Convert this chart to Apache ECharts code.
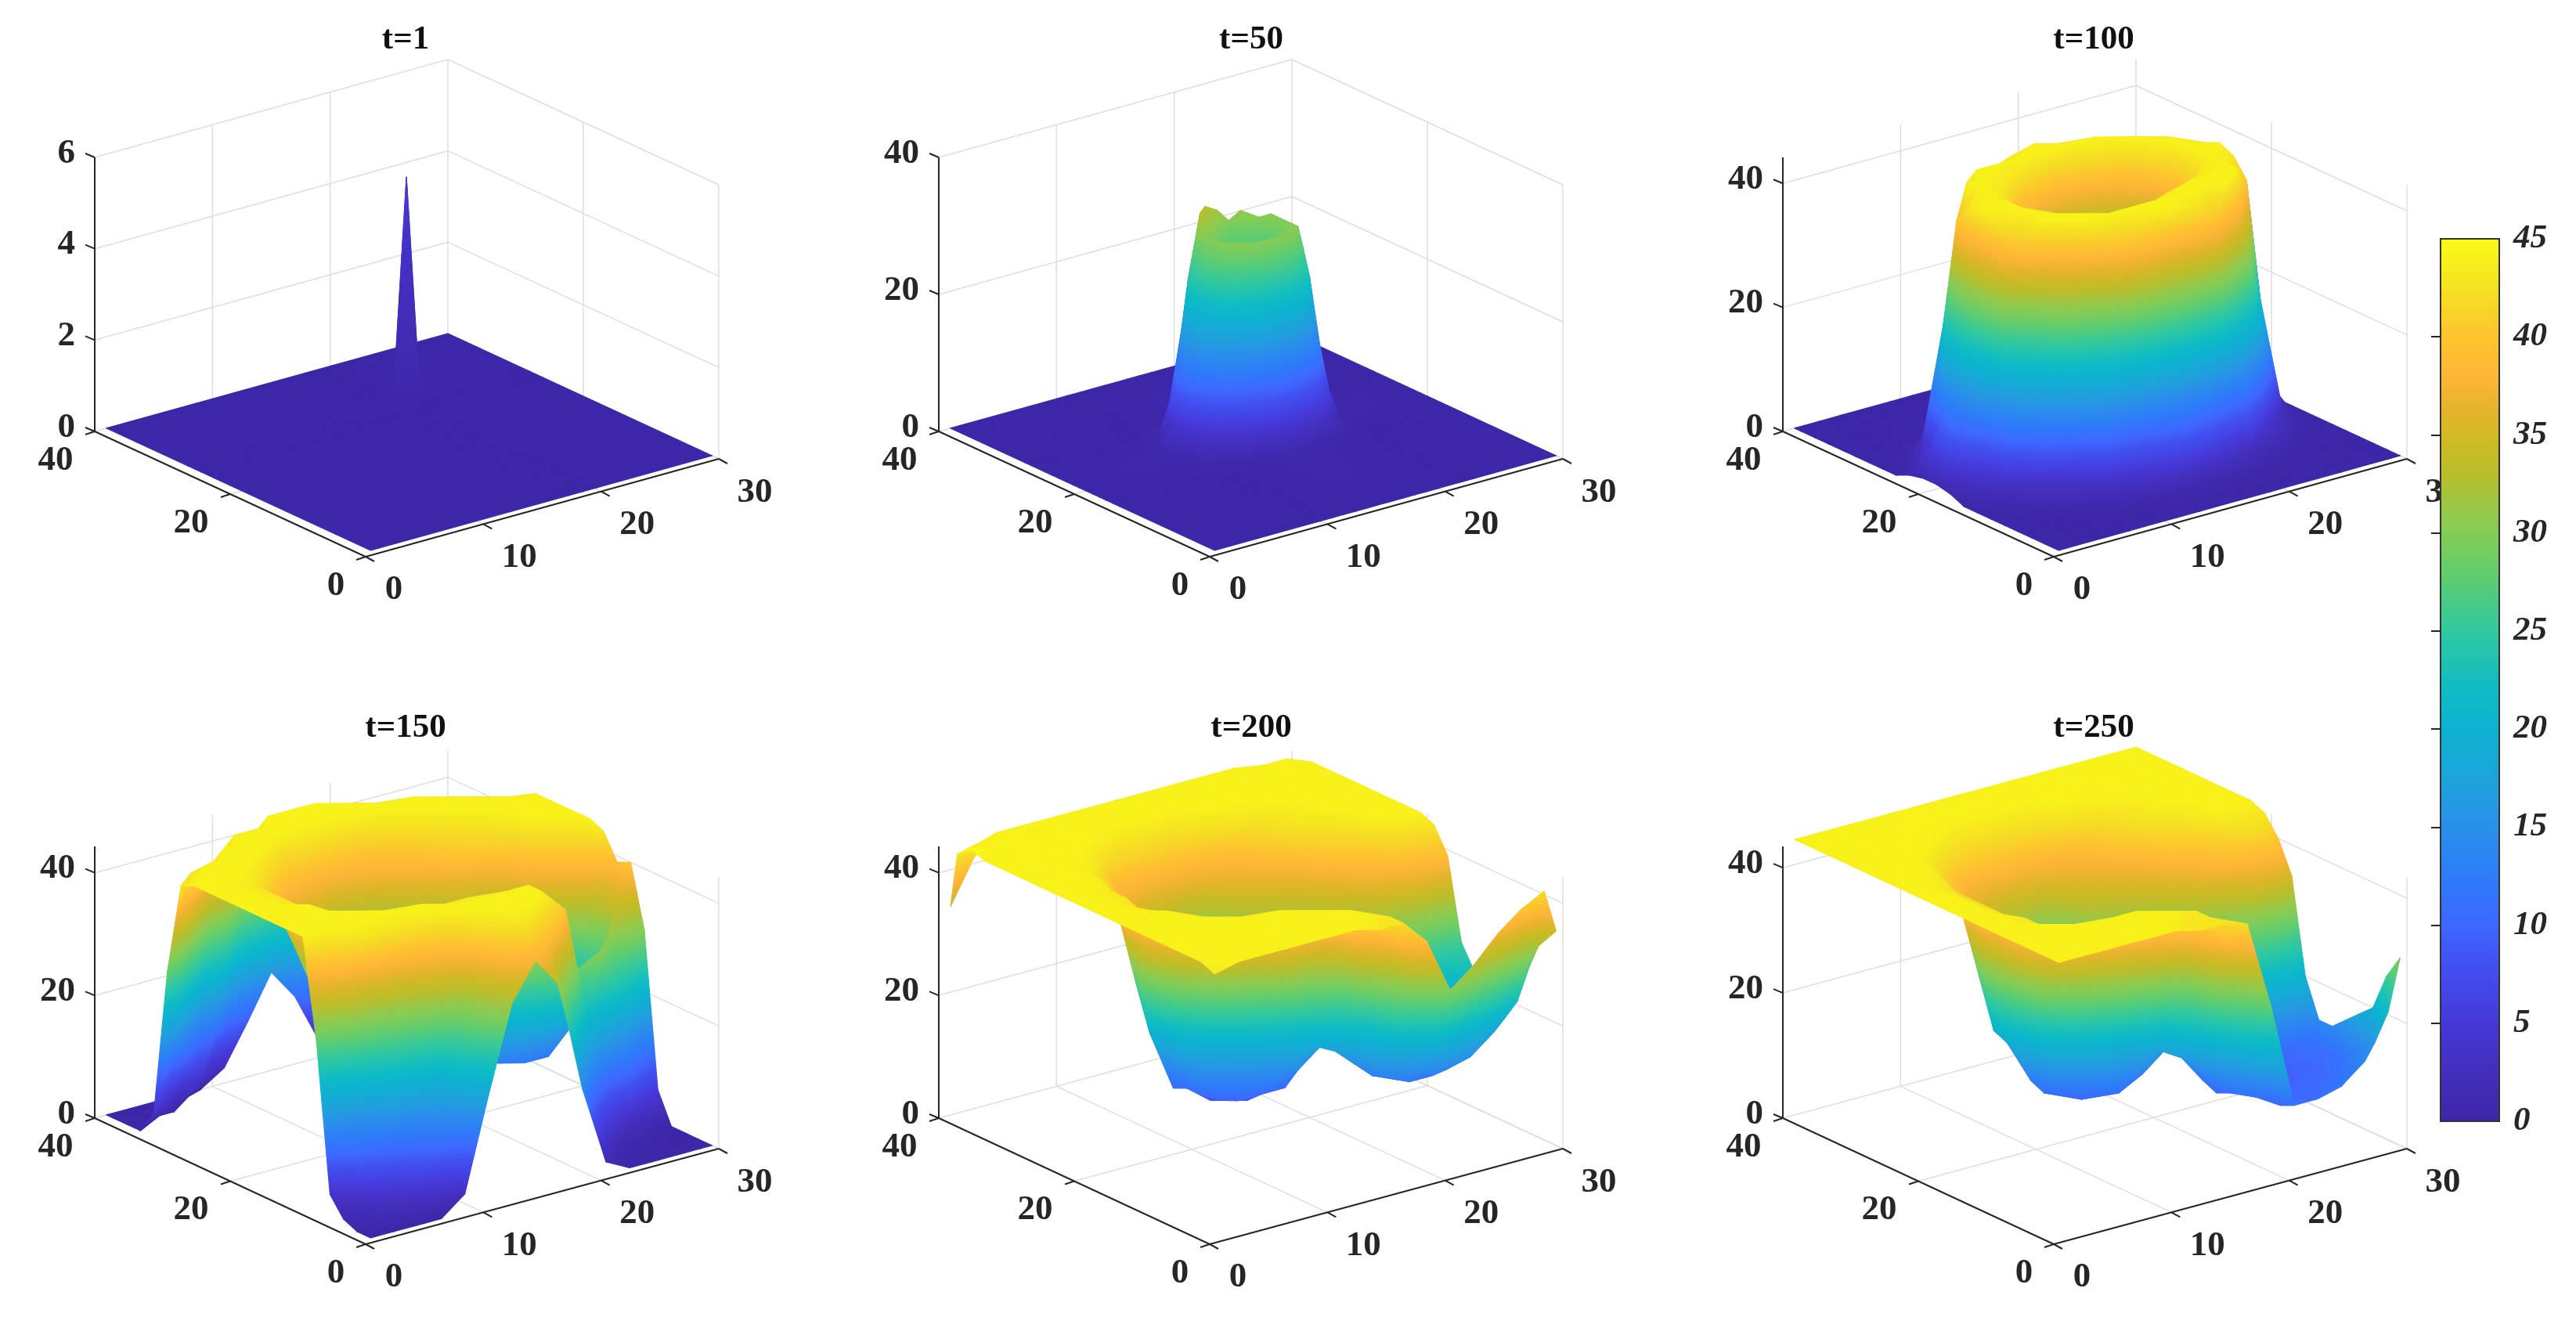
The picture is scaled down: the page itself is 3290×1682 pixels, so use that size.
<!DOCTYPE html>
<html><head><meta charset="utf-8">
<style>html,body{margin:0;padding:0;background:#fff}#c{width:3290px;height:1682px}</style>
<script src="https://cdn.jsdelivr.net/npm/echarts@6/dist/echarts.min.js"></script>
</head><body><div id="c"></div>
<script>
// ---------- values ----------
const panelTitles = ['t=1','t=50','t=100','t=150','t=200','t=250'];
const xTicks = [0,10,20,30];
const yTicks = [0,20,40];
const zTicksT1 = [0,2,4,6];
const zTicksOther = [0,20,40];
const barTicks = [0,5,10,15,20,25,30,35,40,45];

const xsT1 = [1,17.8,19,20.2,30];
const ysT1 = [1,26,27,28,40];
const zT1 = [
[0,0,0,0,0],
[0,0,0,0,0],
[0,0,5.1,0,0],
[0,0,0,0,0],
[0,0,0,0,0]];

const xsT50 = [1,9,10,11,12,13,14,15,16,17,18,19,20,21,22,23,30];
const ysT50 = [1,15,16,17,18,19,20,21,22,23,24,25,26,27,28,29,40];
const zT50 = [
[0,0,0,0,0,0,0,0,0,0,0,0,0,0,0,0,0],
[0,0,0,0,.1,.2,.4,.5,.5,.5,.4,.2,.1,0,0,0,0],
[0,0,0,.2,.5,1,2.2,3.8,4,3.8,2.2,1,.5,.2,0,0,0],
[0,0,.2,.6,2,6,10,14,15,14,10,6,2,.6,.2,0,0],
[0,.1,.5,2,7,15,22,26,27,26,22,15,7,2,.5,.1,0],
[0,.2,1,6,15,25,30,30,30,30,30,25,15,6,1,.2,0],
[0,.4,2.2,10,22,30,30,28,27,28,30,30,22,10,2.2,.4,0],
[0,.5,3.8,14,26,30,28,27,27,27,28,30,26,14,3.8,.5,0],
[0,.5,4,15,27,30,27,27,27,27,27,30,27,15,4,.5,0],
[0,.5,3.8,14,26,30,28,27,27,27,28,30,26,14,3.8,.5,0],
[0,.4,2.2,11,24,33,31,28,27,28,30,30,22,10,2.2,.4,0],
[0,.2,1,6,16,27,33,32,30,31,29,25,15,6,1,.2,0],
[0,.1,.5,2,7,15,23,27,28,27,22,15,7,2,.5,.1,0],
[0,0,.2,.6,2,6,10,14,15,14,10,6,2,.6,.2,0,0],
[0,0,0,.2,.5,1,2.2,3.8,4,3.8,2.2,1,.5,.2,0,0,0],
[0,0,0,0,.1,.2,.4,.5,.5,.5,.4,.2,.1,0,0,0,0],
[0,0,0,0,0,0,0,0,0,0,0,0,0,0,0,0,0]];

const xsCommon = [1,3,5,7,9,11,13,15,17,19,21,23,25,27,29,30];
const ysCommon = [1,3,5,7,9,11,13,15,17,19,21,23,25,27,29,31,33,35,37,39,40];

const zT100 = [
[0,0,0,0,0,0,0,0,0,0,0,0,0,0,0,0],
[0,0,0,0,0,0,0,0,0,0,0,0,0,0,0,0],
[0,0,0,0,0,.3,1,1,1,.3,0,0,0,0,0,0],
[0,0,0,.5,2,6,12,15,12,6,2,.5,0,0,0,0],
[0,0,1,4,23,40,43,44,43,40,23,4,1,0,0,0],
[0,.5,4,30,44,44,44,44,44,44,44,30,4,.5,0,0],
[0,2,22,44,44,42,38,40,43,44,44,44,22,2,0,0],
[0,6,40,44,43,38,27,24,27,36,43,44,40,6,.3,0],
[1,12,43,44,40,27,18,18,18,27,40,44,43,12,1,0],
[1.5,15,44,44,38,24,18,18,18,24,38,44,44,15,1.5,0],
[1.5,12,43,44,40,27,18,18,18,27,40,44,43,12,1,0],
[1,6,40,44,43,36,27,24,27,36,43,44,40,6,.3,0],
[0,2,22,44,44,43,40,38,40,43,44,43,22,2,0,0],
[0,.5,4,30,44,44,44,44,44,44,43,30,4,.5,0,0],
[0,0,1,4,23,40,43,44,43,38,23,4,1,0,0,0],
[0,0,0,.5,2,6,12,15,12,6,2,.5,0,0,0,0],
[0,0,0,0,0,.3,1,1,1,.3,0,0,0,0,0,0],
[0,0,0,0,0,0,0,0,0,0,0,0,0,0,0,0],
[0,0,0,0,0,0,0,0,0,0,0,0,0,0,0,0],
[0,0,0,0,0,0,0,0,0,0,0,0,0,0,0,0],
[0,0,0,0,0,0,0,0,0,0,0,0,0,0,0,0]];

const zT150 = [
[0,0,0,0,3,18,32,38,33,15,2,0,0,0,0,0],
[0,2,4,8,14,26,38,43,40,24,8,1,0,0,0,0],
[1,5,10,16,20,30,42,44,44,40,22,6,1,0,0,0],
[4,15,25,30,36,40,44,44,44,44,40,20,8,3,0,0],
[28,38,43,43,43,44,44,44,44,44,38,28,30,22,8,5],
[44,44,44,44,44,44,43,43,40,28,18,18,24,31,31,30],
[44,44,44,44,43,38,30,24,18,13,12,12,16,24,36,40],
[44,44,44,42,34,26,20,16,13,12,12,14,20,30,36,39],
[44,44,44,36,24,16,12,12,13,15,18,22,30,37,40,43],
[44,44,43,30,18,11,10,13,16,20,27,32,37,40,43,44],
[44,44,43,30,20,15,15,18,22,27,32,35,40,43,44,44],
[44,44,43,34,27,24,24,25,28,32,36,40,42,44,44,44],
[44,44,43,38,33,31,29,30,33,37,40,42,43,44,44,44],
[44,44,44,42,37,35,33,34,37,39,41,43,44,44,44,44],
[43,44,44,44,41,39,38,38,39,41,43,44,44,44,43,40],
[28,43,44,44,44,42,42,42,42,43,44,44,44,43,30,20],
[4,16,40,44,44,44,44,44,44,44,44,44,42,26,8,4],
[0,2,10,36,44,44,44,44,44,44,43,38,20,6,1,0],
[0,0,0,3,14,38,44,44,44,42,30,12,3,0,0,0],
[0,0,0,0,3,12,22,30,24,12,4,0,0,0,0,0],
[0,0,0,0,0,2.5,9,16,11,3,0,0,0,0,0,0]];

const zT200 = [
[43,44,44,44,44,44,44,43,43,39,30,33,37,40,42,35],
[44,44,44,44,44,44,44,44,43,30,22,22,24,28,31,33],
[44,44,44,44,44,44,44,44,40,20,15,14,15,18,22,27],
[44,44,44,44,44,44,44,43,30,14,12,12,13,15,18,21],
[44,44,44,44,44,44,43,42,20,13,13,13,14,14,16,18],
[44,44,44,44,43,40,28,19,17,15,15,15,14,14,16,20],
[44,44,44,43,36,26,13,14,17,18,17,16,16,17,19,22],
[44,44,44,38,24,10,10,10,17,20,19,18,22,24,25,26],
[44,44,43,30,11,9,8,10,16,21,24,26,32,36,38,39],
[44,44,42,24,11,8,9,13,18,24,30,34,38,41,42,43],
[44,44,43,20,10,10,13,17,22,28,33,37,40,43,44,44],
[44,44,43,27,22,20,21,24,29,33,36,40,42,44,44,44],
[44,44,44,36,31,28,27,29,33,36,39,42,43,44,44,44],
[44,44,44,41,35,33,31,32,36,38,41,43,44,44,44,44],
[44,44,44,43,38,37,37,37,38,40,42,43,44,44,44,44],
[44,44,44,44,42,41,41,41,42,43,43,44,44,44,44,44],
[44,44,44,44,44,43,43,43,43,44,44,44,44,44,44,44],
[44,44,44,44,44,44,44,44,44,44,44,44,44,44,44,44],
[45,44,44,44,44,44,44,44,44,44,44,44,44,44,44,44],
[43,44,44,44,44,44,44,44,44,44,44,44,44,44,44,42],
[34,41,44,44,44,44,44,44,44,44,44,44,44,43,42,42]];

const zT250 = [
[44,44,44,44,44,44,43,43,42,28,11,11,12,15,22,30],
[44,44,44,44,44,44,43,43,34,16,10,10,11,12,16,26],
[44,44,44,44,44,44,44,43,24,12,10,10,10,11,14,20],
[44,44,44,44,44,44,43,36,18,11,10,9,10,10,12,18],
[44,44,44,43,42,38,30,24,16,10,10,9,9,10,11,16],
[44,44,43,38,32,24,20,18,16,11,9,9,9,10,11,14],
[44,44,43,32,22,14,11,13,16,13,10,9,9,10,11,14],
[44,44,42,26,14,10,10,12,15,15,14,14,18,22,22,20],
[44,44,42,22,11,10,11,14,18,20,20,22,30,36,37,35],
[44,44,42,19,12,12,14,17,22,25,28,33,38,41,42,40],
[44,44,42,20,16,16,19,22,27,30,33,37,40,43,43,43],
[44,44,42,27,24,24,25,27,31,33,36,40,42,44,44,44],
[44,44,43,36,31,29,28,29,34,36,39,42,43,44,44,44],
[44,44,44,40,36,33,31,32,36,38,41,43,44,44,44,44],
[44,44,44,42,38,37,37,37,38,40,42,43,44,44,44,44],
[44,44,44,44,42,41,41,41,42,43,43,44,44,44,44,44],
[44,44,44,44,44,43,43,43,43,44,44,44,44,44,44,44],
[44,44,44,44,44,44,44,44,44,44,44,44,44,44,44,44],
[44,44,44,44,44,44,44,44,44,44,44,44,44,44,44,44],
[44,44,44,44,44,44,44,44,44,44,44,44,44,44,44,44],
[44,44,44,44,44,44,44,44,44,44,44,44,44,44,44,44]];

// colormap: value, colour
const cmapValues = [0,3,5,8,10,12,15,17,20,22,25,28,30,31,33,35,36,38,40,42,45];
const cmapColors = ['#3e26a8','#4330c0','#4638d8','#4150f0','#3e68ff','#2f78fb','#2a8fea','#1fa0dd','#0db2d0','#0fbcc4','#30c8a0','#62cd6d','#85cc55','#93c84a','#b9be2c','#d2b924','#e2b42c','#feb537','#fdc52e','#f5dc24','#fafb15'];

// ---------- layout ----------
const FONT = '"Liberation Serif","Times New Roman",serif';
const TICK = '#262626';
const panels = [
 {title:panelTitles[0], xs:xsT1,  ys:ysT1,  z:zT1,  zTicks:zTicksT1,  zMax:6,    left:121,  originY:711,  xRun:[451,125], yRun:[346,160], zPx:350},
 {title:panelTitles[1], xs:xsT50, ys:ysT50, z:zT50, zTicks:zTicksOther,zMax:40,  left:1199, originY:711,  xRun:[451,125], yRun:[346,160], zPx:350},
 {title:panelTitles[2], xs:xsCommon,ys:ysCommon,z:zT100,zTicks:zTicksOther,zMax:44.2,left:2277,originY:711,xRun:[451,125], yRun:[346,160], zPx:350},
 {title:panelTitles[3], xs:xsCommon,ys:ysCommon,z:zT150,zTicks:zTicksOther,zMax:44.3,left:121, originY:1589,xRun:[451,122], yRun:[346,161], zPx:347},
 {title:panelTitles[4], xs:xsCommon,ys:ysCommon,z:zT200,zTicks:zTicksOther,zMax:44.3,left:1199,originY:1589,xRun:[451,122], yRun:[346,161], zPx:347},
 {title:panelTitles[5], xs:xsCommon,ys:ysCommon,z:zT250,zTicks:zTicksOther,zMax:43.4,left:2277,originY:1589,xRun:[451,122], yRun:[346,161], zPx:347}
];
const XMAX = 30, YMAX = 40;

function colorAt(v){
  if(v<=cmapValues[0]) return cmapColors[0];
  for(let i=1;i<cmapValues.length;i++){
    if(v<=cmapValues[i]){
      const t=(v-cmapValues[i-1])/(cmapValues[i]-cmapValues[i-1]);
      const a=echarts.color.parse(cmapColors[i-1]), b=echarts.color.parse(cmapColors[i]);
      return 'rgb('+[0,1,2].map(k=>Math.round(a[k]+(b[k]-a[k])*t)).join(',')+')';
    }
  }
  return cmapColors[cmapColors.length-1];
}
function fillFor(p,z){
  const lo=Math.min(z[0],z[1],z[2]), hi=Math.max(z[0],z[1],z[2]);
  const avg=colorAt((z[0]+z[1]+z[2])/3);
  if(hi-lo<1e-6) return avg;
  const d1=[p[1][0]-p[0][0],p[1][1]-p[0][1]], d2=[p[2][0]-p[0][0],p[2][1]-p[0][1]];
  const dz1=z[1]-z[0], dz2=z[2]-z[0];
  const det=d1[0]*d2[1]-d1[1]*d2[0];
  if(Math.abs(det)<1e-3) return avg;
  const a=(dz1*d2[1]-dz2*d1[1])/det, b=(d1[0]*dz2-d2[0]*dz1)/det;
  const g2=a*a+b*b;
  if(g2<1e-12) return avg;
  const s=p[z.indexOf(lo)];
  const ex=s[0]+a*(hi-lo)/g2, ey=s[1]+b*(hi-lo)/g2;
  const stops=[{offset:0,color:colorAt(lo)}];
  cmapValues.forEach(k=>{ if(k>lo&&k<hi) stops.push({offset:(k-lo)/(hi-lo),color:colorAt(k)}); });
  stops.push({offset:1,color:colorAt(hi)});
  return new echarts.graphic.LinearGradient(s[0],s[1],ex,ey,stops,true);
}
function project(pn,x,y,z){
  return [ pn.yRun[0] + x/XMAX*pn.xRun[0] - y/YMAX*pn.yRun[0],
           x/XMAX*pn.xRun[1] + y/YMAX*pn.yRun[1] + z/pn.zMax*pn.zPx ];
}

const grids=[],xAxes=[],yAxes=[],series=[],titles=[];
panels.forEach((pn,idx)=>{
  const W=pn.xRun[0]+pn.yRun[0], H=pn.xRun[1]+pn.yRun[1]+pn.zPx;
  grids.push({left:pn.left,top:pn.originY-H,width:W,height:H,containLabel:false});
  xAxes.push({type:'value',gridIndex:idx,min:0,max:W,show:false});
  yAxes.push({type:'value',gridIndex:idx,min:0,max:H,show:false});
  const cx=pn.left+(idx%3===0?397:idx%3===1?399:397);
  const digits=pn.title.length-2;
  const tw=43*(0.903+0.5*digits);
  titles.push({text:pn.title,left:cx-tw/2,top:(idx<3?51:930)-24,padding:0,
    textStyle:{fontFamily:FONT,fontWeight:'bold',fontSize:43,color:'#111',lineHeight:48}});

  // wall and floor grid lines
  const gl=[];
  const pushL=(a,b)=>{const p=project(pn,a[0],a[1],a[2]),q=project(pn,b[0],b[1],b[2]);gl.push([p[0],p[1],q[0],q[1]]);};
  pn.zTicks.forEach(t=>{pushL([0,YMAX,t],[XMAX,YMAX,t]);pushL([XMAX,YMAX,t],[XMAX,0,t]);});
  xTicks.filter(t=>t>0).forEach(t=>{pushL([t,0,0],[t,YMAX,0]);pushL([t,YMAX,0],[t,YMAX,pn.zMax]);});
  yTicks.filter(t=>t<YMAX).forEach(t=>{pushL([0,t,0],[XMAX,t,0]);pushL([XMAX,t,0],[XMAX,t,pn.zMax]);});
  series.push({type:'custom',xAxisIndex:idx,yAxisIndex:idx,z:1,silent:true,clip:false,animation:false,
    data:gl,encode:{x:[0,2],y:[1,3]},
    renderItem:(params,api)=>{const a=api.coord([api.value(0),api.value(1)]),b=api.coord([api.value(2),api.value(3)]);
      return {type:'line',shape:{x1:a[0],y1:a[1],x2:b[0],y2:b[1]},style:{stroke:'#dedede',lineWidth:1.5}};}});

  // dark axes and ticks: columns u1,v1,u2,v2,dx,dy (tick offset in pixels)
  const al=[];
  const pushA=(a,b,dx,dy)=>{const p=project(pn,a[0],a[1],a[2]),q=project(pn,b[0],b[1],b[2]);al.push([p[0],p[1],q[0],q[1],dx,dy]);};
  pushA([0,0,0],[XMAX,0,0],0,0);pushA([0,0,0],[0,YMAX,0],0,0);pushA([0,YMAX,0],[0,YMAX,pn.zMax],0,0);
  xTicks.forEach(t=>pushA([t,0,0],[t,0,0],11,6));
  yTicks.forEach(t=>pushA([0,t,0],[0,t,0],-12,4));
  pn.zTicks.forEach(t=>pushA([0,YMAX,t],[0,YMAX,t],-12,-5));
  series.push({type:'custom',xAxisIndex:idx,yAxisIndex:idx,z:2,silent:true,clip:false,animation:false,
    data:al,encode:{x:[0,2],y:[1,3]},
    renderItem:(params,api)=>{const a=api.coord([api.value(0),api.value(1)]),b=api.coord([api.value(2),api.value(3)]);
      const dx=api.value(4),dy=api.value(5);
      const e=(dx||dy)?[a[0]+dx,a[1]+dy]:b;
      return {type:'line',shape:{x1:a[0],y1:a[1],x2:e[0],y2:e[1]},style:{stroke:TICK,lineWidth:2}};}});

  // surface triangles, far to near; each quad is cut along the diagonal with the smaller height change
  const tris=[];
  const V=(i,j)=>{const p=project(pn,pn.xs[i],pn.ys[j],pn.z[j][i]);return [p[0],p[1],pn.z[j][i]];};
  for(let j=pn.ys.length-2;j>=0;j--){
    for(let i=pn.xs.length-2;i>=0;i--){
      const A=V(i,j),B=V(i+1,j),C=V(i+1,j+1),D=V(i,j+1);
      if(Math.abs(A[2]-C[2])<Math.abs(B[2]-D[2])){
        tris.push([...A,...B,...C]);
        tris.push([...A,...C,...D]);
      }else{
        tris.push([...C,...D,...B]);
        tris.push([...A,...B,...D]);
      }
    }
  }
  series.push({type:'custom',xAxisIndex:idx,yAxisIndex:idx,z:3,silent:true,clip:false,animation:false,progressive:0,
    data:tris,encode:{x:[0,3,6],y:[1,4,7]},
    renderItem:(params,api)=>{
      const pts=[0,3,6].map(k=>api.coord([api.value(k),api.value(k+1)]));
      const zs=[api.value(2),api.value(5),api.value(8)];
      const f=fillFor(pts,zs);
      return {type:'polygon',shape:{points:pts},style:{fill:f,stroke:f,lineWidth:1.2,lineJoin:'round'}};
    }});

  // tick labels
  const lb=[];
  const pushT=(a,txt,dx,dy,al2)=>{const p=project(pn,a[0],a[1],a[2]);lb.push([p[0],p[1],txt,dx,dy,al2]);};
  xTicks.forEach(t=>pushT([t,0,0],String(t),t===0?36:46,t===0?42:43,'center'));
  yTicks.forEach(t=>pushT([0,t,0],String(t),t===0?-38:-50,37,'center'));
  pn.zTicks.forEach(t=>pushT([0,YMAX,t],String(t),-25,-5,'right'));
  series.push({type:'custom',xAxisIndex:idx,yAxisIndex:idx,z:4,silent:true,clip:false,animation:false,
    dimensions:['u','v',{name:'txt',type:'ordinal'},'dx','dy',{name:'al',type:'ordinal'}],
    data:lb.map(r=>({value:r})),encode:{x:0,y:1},
    renderItem:(params,api)=>{
      const r=lb[params.dataIndex];
      const a=api.coord([r[0],r[1]]);
      return {type:'text',x:a[0]+r[3],y:a[1]+r[4],
        style:{text:r[2],fontFamily:FONT,fontWeight:'bold',fontSize:45,fill:TICK,align:r[5],verticalAlign:'middle'}};
    }});
});

// colour bar
const bi=panels.length;
grids.push({left:3117,top:305,width:75,height:1127});
xAxes.push({type:'value',gridIndex:bi,min:0,max:1,show:false});
yAxes.push({type:'value',gridIndex:bi,min:0,max:45,interval:5,position:'right',z:12,
  splitLine:{show:false},
  axisLine:{show:false},
  axisTick:{show:true,inside:true,length:12,lineStyle:{color:TICK,width:2},
    customValues:barTicks.filter(t=>t>0&&t<45)},
  axisLabel:{margin:18,padding:[6,0,0,0],fontFamily:FONT,fontWeight:'bold',fontStyle:'italic',fontSize:43,color:TICK,
    customValues:barTicks,align:'left'}});
series.push({type:'custom',xAxisIndex:bi,yAxisIndex:bi,z:10,silent:true,animation:false,clip:false,
  data:[[0,0,1,45]],encode:{x:[0,2],y:[1,3]},
  renderItem:(params,api)=>{
    const a=api.coord([api.value(0),api.value(1)]),b=api.coord([api.value(2),api.value(3)]);
    const stops=cmapValues.map((v,i)=>({offset:v/45,color:cmapColors[i]}));
    return {type:'rect',shape:{x:a[0],y:b[1],width:b[0]-a[0],height:a[1]-b[1]},
      style:{fill:new echarts.graphic.LinearGradient(0,1,0,0,stops),stroke:'#333',lineWidth:2}};
  }});

const chart=echarts.init(document.getElementById('c'),null,{renderer:'canvas',width:3290,height:1682});
chart.setOption({backgroundColor:'#fff',animation:false,title:titles,grid:grids,xAxis:xAxes,yAxis:yAxes,series:series});
</script></body></html>
